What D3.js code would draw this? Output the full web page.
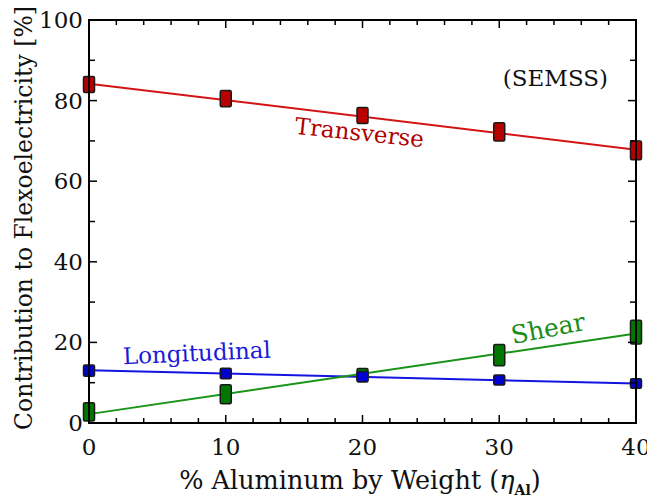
<!DOCTYPE html>
<html>
<head>
<meta charset="utf-8">
<script src="https://cdn.jsdelivr.net/npm/d3@7"></script>
<style>
body { margin: 0; background: #fff; }
#chart text { font-family: "DejaVu Serif", "Liberation Serif", "Noto Serif", "Times New Roman", serif; }
</style>
</head>
<body>
<svg id="chart" width="647" height="500"></svg>
<script>
'use strict' ;

// aluminum content (% by weight)
const alContent = [ 0, 10, 20, 30, 40 ] ;

// each measured point is drawn as a box spanning [low, high]
const transverseLow  = [ 82.0, 78.5, 74.3, 70.0, 65.3 ] ;
const transverseHigh = [ 86.0, 82.5, 78.3, 74.5, 70.0 ] ;
const longitudinalLow  = [ 11.6, 11.0, 10.2, 9.4, 8.6 ] ;
const longitudinalHigh = [ 14.4, 13.6, 12.8, 11.9, 11.0 ] ;
const shearLow  = [ 0.5, 4.8, 10.5, 14.2, 19.6 ] ;
const shearHigh = [ 5.0, 9.5, 13.5, 19.5, 25.5 ] ;

// straight fit lines, value at x = 0 and x = 40
const transverseFit = [ 84.2, 67.8 ] ;
const longitudinalFit = [ 13.1, 9.8 ] ;
const shearFit = [ 2.2, 22.2 ] ;

const xTicks = [ 0, 10, 20, 30, 40 ] ;
const yTicks = [ 0, 20, 40, 60, 80, 100 ] ;

let geom = {
	left: 89,
	right: 636,
	top: 20,
	bottom: 423,
	boxWidth: 11
} ;

let svg = d3.select( '#chart' ) ;

let x = d3.scaleLinear().domain( [ 0, 40 ] ).range( [ geom.left, geom.right ] ) ;
let y = d3.scaleLinear().domain( [ 0, 100 ] ).range( [ geom.bottom, geom.top ] ) ;

let series = [
	{ name: 'Transverse', low: transverseLow, high: transverseHigh, fit: transverseFit,
		line: '#d41414', fill: '#b80000', text: '#b00000',
		label: { x: 15.0, y: 71.8, angle: 6, size: 23 } },
	{ name: 'Longitudinal', low: longitudinalLow, high: longitudinalHigh, fit: longitudinalFit,
		line: '#1414e0', fill: '#0000d0', text: '#1a1ad8',
		label: { x: 2.5, y: 14.6, angle: -2.5, size: 23 } },
	{ name: 'Shear', low: shearLow, high: shearHigh, fit: shearFit,
		line: '#189418', fill: '#007800', text: '#1a8c1a',
		label: { x: 31.0, y: 19.6, angle: -11, size: 25 } }
] ;

// fit lines
let lineGen = d3.line().x( d => x( d[0] )).y( d => y( d[1] )) ;
svg.selectAll( 'path.fit' )
	.data( series )
	.enter()
	.append( 'path' )
	.attr( 'class', 'fit' )
	.attr( 'fill', 'none' )
	.attr( 'stroke', s => s.line )
	.attr( 'stroke-width', 2 )
	.attr( 'd', s => lineGen( [ [ 0, s.fit[0] ], [ 40, s.fit[1] ] ] )) ;

// boxes: draw shear first so blue sits on top at x = 20
let boxOrder = [ series[0], series[2], series[1] ] ;
boxOrder.forEach( s => {
	svg.append( 'g' )
		.selectAll( 'rect' )
		.data( alContent.map( ( a, i ) => ({ a: a, lo: s.low[i], hi: s.high[i] }) ))
		.enter()
		.append( 'rect' )
		.attr( 'x', d => x( d.a ) - geom.boxWidth / 2 )
		.attr( 'y', d => y( d.hi ))
		.attr( 'width', geom.boxWidth )
		.attr( 'height', d => y( d.lo ) - y( d.hi ))
		.attr( 'rx', 1.5 )
		.attr( 'fill', s.fill )
		.attr( 'stroke', '#1a1a1a' )
		.attr( 'stroke-width', 1.5 ) ;
} ) ;

// frame
svg.append( 'rect' )
	.attr( 'x', geom.left )
	.attr( 'y', geom.top )
	.attr( 'width', geom.right - geom.left )
	.attr( 'height', geom.bottom - geom.top )
	.attr( 'fill', 'none' )
	.attr( 'stroke', '#000' )
	.attr( 'stroke-width', 2 ) ;

// inward ticks on all four sides
let xMinor = d3.range( 0, 41, 2 ) ;
let yMinor = d3.range( 0, 101, 10 ) ;
let tickG = svg.append( 'g' ).attr( 'stroke', '#000' ).attr( 'stroke-width', 1.5 ) ;
xMinor.forEach( v => {
	let len = ( v % 10 === 0 ) ? 8 : 5 ;
	tickG.append( 'line' ).attr( 'x1', x( v )).attr( 'x2', x( v ))
		.attr( 'y1', geom.bottom ).attr( 'y2', geom.bottom - len ) ;
	tickG.append( 'line' ).attr( 'x1', x( v )).attr( 'x2', x( v ))
		.attr( 'y1', geom.top ).attr( 'y2', geom.top + len ) ;
} ) ;
yMinor.forEach( v => {
	let len = ( v % 20 === 0 ) ? 8 : 6 ;
	tickG.append( 'line' ).attr( 'y1', y( v )).attr( 'y2', y( v ))
		.attr( 'x1', geom.left ).attr( 'x2', geom.left + len ) ;
	tickG.append( 'line' ).attr( 'y1', y( v )).attr( 'y2', y( v ))
		.attr( 'x1', geom.right ).attr( 'x2', geom.right - len ) ;
} ) ;

// tick labels
svg.selectAll( 'text.xtick' )
	.data( xTicks )
	.enter()
	.append( 'text' )
	.attr( 'class', 'xtick' )
	.attr( 'x', d => x( d ))
	.attr( 'y', geom.bottom + 32 )
	.attr( 'text-anchor', 'middle' )
	.attr( 'font-size', '23px' )
	.attr( 'fill', '#111' )
	.text( d => d ) ;

svg.selectAll( 'text.ytick' )
	.data( yTicks )
	.enter()
	.append( 'text' )
	.attr( 'class', 'ytick' )
	.attr( 'x', geom.left - 6 )
	.attr( 'y', d => y( d ) + 8 )
	.attr( 'text-anchor', 'end' )
	.attr( 'font-size', '23px' )
	.attr( 'fill', '#111' )
	.text( d => d ) ;

// axis titles
svg.append( 'text' )
	.attr( 'transform', 'translate(32,218) rotate(-90)' )
	.attr( 'text-anchor', 'middle' )
	.attr( 'font-size', '23.5px' )
	.attr( 'fill', '#111' )
	.text( 'Contribution to Flexoelectricity  [%]' ) ;

let xTitle = svg.append( 'text' )
	.attr( 'x', 360 )
	.attr( 'y', 489 )
	.attr( 'text-anchor', 'middle' )
	.attr( 'font-size', '25.5px' )
	.attr( 'fill', '#111' ) ;
xTitle.append( 'tspan' ).text( '% Aluminum by Weight  (' ) ;
xTitle.append( 'tspan' ).attr( 'font-style', 'italic' ).text( 'η' ) ;
xTitle.append( 'tspan' ).attr( 'font-size', '14px' ).attr( 'font-weight', 'bold' ).attr( 'dy', 6 ).text( 'Al' ) ;
xTitle.append( 'tspan' ).attr( 'dy', -6 ).text( ')' ) ;

// series labels
svg.selectAll( 'text.label' )
	.data( series )
	.enter()
	.append( 'text' )
	.attr( 'class', 'label' )
	.attr( 'transform', s => 'translate(' + x( s.label.x ) + ',' + y( s.label.y ) + ') rotate(' + s.label.angle + ')' )
	.attr( 'font-size', s => s.label.size + 'px' )
	.attr( 'fill', s => s.text )
	.text( s => s.name ) ;

svg.append( 'text' )
	.attr( 'x', 608 )
	.attr( 'y', 86 )
	.attr( 'text-anchor', 'end' )
	.attr( 'font-size', '23px' )
	.attr( 'fill', '#111' )
	.text( '(SEMSS)' ) ;
</script>
</body>
</html>
